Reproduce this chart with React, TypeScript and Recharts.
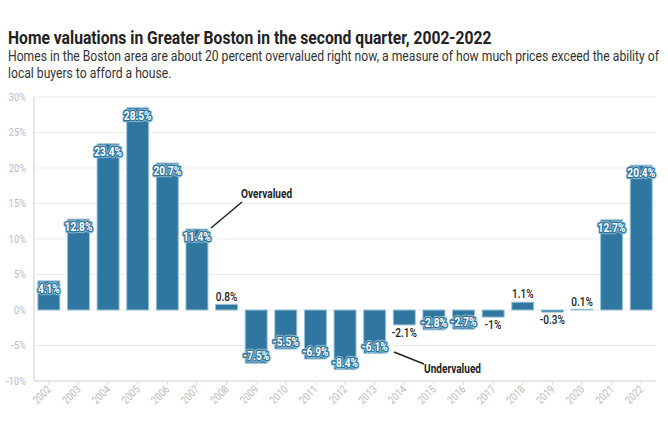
import { BarChart, Bar, XAxis, YAxis, CartesianGrid, LabelList } from "recharts";

const years = ["2002", "2003", "2004", "2005", "2006", "2007", "2008", "2009", "2010", "2011", "2012",
  "2013", "2014", "2015", "2016", "2017", "2018", "2019", "2020", "2021", "2022"];
const valuation = [4.1, 12.8, 23.4, 28.5, 20.7, 11.4, 0.8, -7.5, -5.5, -6.9, -8.4,
  -6.1, -2.1, -2.8, -2.7, -1, 1.1, -0.3, 0.1, 12.7, 20.4];
const yTicks = [-10, -5, 0, 5, 10, 15, 20, 25, 30];

const chartData = years.map((year, i) => ({ year, value: valuation[i] }));

const FONT = 'Roboto, "Noto Sans", sans-serif';
const BAR = "#2f77a0";
const NARROW = 0.84;

// labels sit inside the bar when it is tall enough, otherwise just outside
const BarLabel = (props: any) => {
  const { x, y, width, height, value } = props;
  const top = Math.min(y, y + height);
  const bottom = Math.max(y, y + height);
  const cx = x + width / 2;
  const inside = Math.abs(value) >= 2.5;
  const text = `${value}%`;
  if (inside) {
    const ty = value >= 0 ? top + 8 : bottom - 7;
    const tf = `translate(${cx},${ty}) scale(${NARROW},1)`;
    return (
      <g>
        <text transform={tf} dy="0.35em" textAnchor="middle" fontSize={12} fontWeight={700}
          fontFamily={FONT} fill="#fff" stroke="#a9c9dc" strokeWidth={4.5} strokeLinejoin="round"
          style={{ paintOrder: "stroke" }}>{text}</text>
        <text transform={tf} dy="0.35em" textAnchor="middle" fontSize={12} fontWeight={700}
          fontFamily={FONT} fill="#fff" stroke={BAR} strokeWidth={3} strokeLinejoin="round"
          style={{ paintOrder: "stroke" }}>{text}</text>
      </g>
    );
  }
  const ty = value >= 0 ? top - 8 : bottom + 8;
  return (
    <text transform={`translate(${cx},${ty}) scale(${NARROW},1)`} dy="0.35em" textAnchor="middle"
      fontSize={12} fontWeight={500} fontFamily={FONT} fill="#222">{text}</text>
  );
};

const YearTick = (props: any) => {
  const { x, y, payload } = props;
  return (
    <g transform={`translate(${x + 3},${y + 3})`}>
      <text x={0} y={0} textAnchor="end" transform={`rotate(-45) scale(${NARROW},1)`} fontSize={11}
        fontFamily={FONT} fill="#bbb">{payload.value}</text>
    </g>
  );
};

const PctTick = (props: any) => {
  const { x, y, payload } = props;
  return (
    <text transform={`translate(${x},${y}) scale(${NARROW},1)`} dy="0.35em" textAnchor="end"
      fontSize={11} fontFamily={FONT} fill="#bbb">{`${payload.value}%`}</text>
  );
};

export default function App() {
  return (
    <div style={{ position: "absolute", left: 0, top: 0, width: 668, height: 445, background: "#fff", fontFamily: FONT }}>
      <div style={{ position: "absolute", left: 8, top: 27, fontSize: 18, fontWeight: 700, color: "#222", lineHeight: "22px",
        whiteSpace: "nowrap", transform: "scaleX(0.87)", transformOrigin: "left top" }}>
        Home valuations in Greater Boston in the second quarter, 2002-2022
      </div>
      <div style={{ position: "absolute", left: 8, top: 48, fontSize: 14, color: "#333", lineHeight: "17px",
        whiteSpace: "nowrap", transform: "scaleX(0.868)", transformOrigin: "left top" }}>
        Homes in the Boston area are about 20 percent overvalued right now, a measure of how much prices exceed the ability of
        <br />
        local buyers to afford a house.
      </div>
      <div style={{ position: "absolute", left: 0, top: 85 }}>
        <BarChart width={668} height={360} data={chartData}
          margin={{ top: 12, right: 12, left: 0, bottom: 0 }} barCategoryGap="13%">
          <CartesianGrid vertical={false} stroke="#ececec" />
          <XAxis dataKey="year" interval={0} height={64} tick={<YearTick />}
            axisLine={{ stroke: "#e6e6e6", strokeWidth: 2 }} tickLine={{ stroke: "#e0e0e0" }} tickSize={4} />
          <YAxis width={34} domain={[-10, 30]} ticks={yTicks} tick={<PctTick />} tickLine={false}
            axisLine={{ stroke: "#e6e6e6", strokeWidth: 2 }} />
          <Bar dataKey="value" fill={BAR} stroke="#9cc3d8" strokeWidth={1} isAnimationActive={false}>
            <LabelList dataKey="value" content={<BarLabel />} />
          </Bar>
        </BarChart>
      </div>
      <svg width={668} height={445} style={{ position: "absolute", left: 0, top: 0, pointerEvents: "none" }}>
        <line x1={211} y1={228} x2={242} y2={202} stroke="#222" strokeWidth={1.5} />
        <text transform={`translate(241,198) scale(${NARROW},1)`} fontSize={12} fontWeight={700} fontFamily={FONT} fill="#222">Overvalued</text>
        <line x1={394} y1={352} x2={424} y2={364} stroke="#222" strokeWidth={1.5} />
        <text transform={`translate(424,373) scale(${NARROW},1)`} fontSize={12} fontWeight={700} fontFamily={FONT} fill="#222">Undervalued</text>
      </svg>
    </div>
  );
}
